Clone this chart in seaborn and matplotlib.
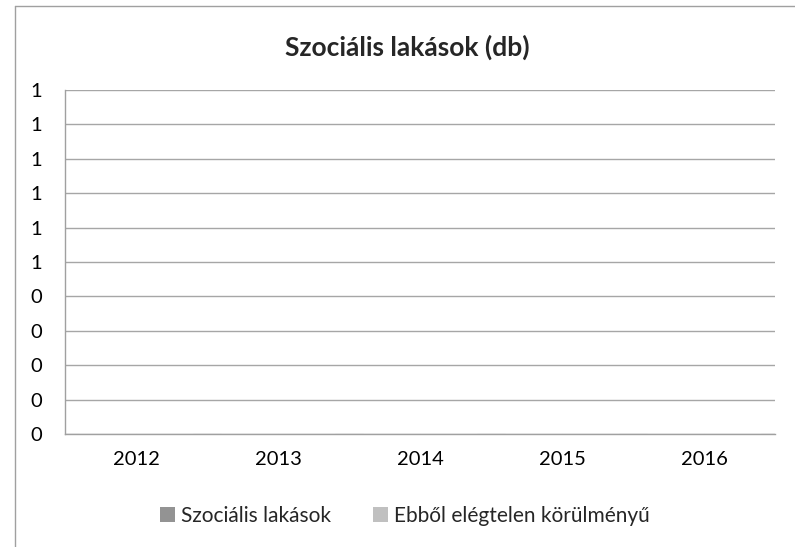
import matplotlib
matplotlib.use("Agg")
import matplotlib.pyplot as plt
import seaborn as sns
import pandas as pd
import numpy as np
from matplotlib.lines import Line2D
from matplotlib.patches import Patch

years = ["2012", "2013", "2014", "2015", "2016"]
szocialis = [0, 0, 0, 0, 0]
elegtelen = [0, 0, 0, 0, 0]
series_names = ["Szociális lakások", "Ebből elégtelen körülményű"]
y_ticks = [0, 0.1, 0.2, 0.3, 0.4, 0.5, 0.6, 0.7, 0.8, 0.9, 1.0]
y_tick_labels = ["0", "0", "0", "0", "0", "1", "1", "1", "1", "1", "1"]
title = "Szociális lakások (db)"
colors = ["#939393", "#c0c0c0"]

sns.set_style("white")
plt.rcParams['font.family'] = ['Lato', 'DejaVu Sans']

df = pd.DataFrame({
    "year": years * 2,
    "value": szocialis + elegtelen,
    "series": [series_names[0]] * len(years) + [series_names[1]] * len(years),
})

W, H = 795, 547
fig = plt.figure(figsize=(W / 100, H / 100), dpi=100)
ax = fig.add_axes([65 / W, 1 - 434 / H, (775 - 65) / W, (434 - 90) / H])

sns.barplot(data=df, x="year", y="value", hue="series", palette=colors, ax=ax, legend=False)

ax.set_ylim(0, 1.0)
ax.set_xlim(-0.5, len(years) - 0.5)
ax.set_yticks(y_ticks)
ax.set_yticklabels(y_tick_labels, fontsize=14.5, color="#000000")
ax.set_xticks(range(len(years)))
ax.set_xticklabels(years, fontsize=14.5, color="#000000")
ax.set_xlabel("")
ax.set_ylabel("")
ax.tick_params(axis="x", which="major", length=0, pad=12)
ax.set_xticks(np.arange(-0.5, len(years), 1.0), minor=True)
ax.tick_params(axis="x", which="minor", length=6, color="#a0a0a0", width=1)
ax.tick_params(axis="y", length=6, color="#a0a0a0", width=1, pad=10.5)

ax.grid(axis="y", color="#a6a6a6", linewidth=1)
ax.set_axisbelow(True)
for s in ["top", "right"]:
    ax.spines[s].set_visible(False)
for s in ["left", "bottom"]:
    ax.spines[s].set_color("#a0a0a0")
    ax.spines[s].set_linewidth(1)

fig.text(407 / W, 1 - 47 / H, title, ha="center", va="center", fontsize=19, fontweight="bold")

handles = [Patch(facecolor=colors[0], edgecolor="none"), Patch(facecolor=colors[1], edgecolor="none")]
fig.legend(handles, series_names, loc="center", bbox_to_anchor=(405 / W, 1 - 516 / H), ncol=2,
           frameon=False, fontsize=15, handlelength=0.7, handleheight=0.7,
           handletextpad=0.3, columnspacing=2.0)

fig.add_artist(Line2D([15 / W, 15 / W], [0, 1 - 6 / H], color="#a0a0a0", linewidth=1))
fig.add_artist(Line2D([15 / W, 1], [1 - 6 / H, 1 - 6 / H], color="#a0a0a0", linewidth=1))

fig.savefig("out.png", dpi=100)
